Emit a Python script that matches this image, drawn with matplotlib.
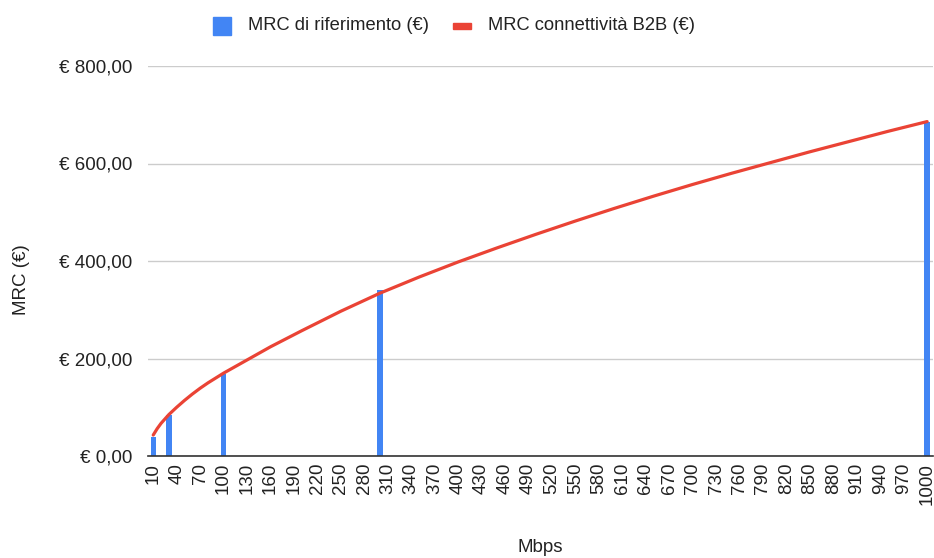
import matplotlib
matplotlib.use("Agg")
import matplotlib.pyplot as plt
from matplotlib.patches import Rectangle

plt.rcParams['font.family'] = ['Liberation Sans', 'DejaVu Sans']

# bars: reference MRC at the offered speeds
speeds = [10, 30, 100, 300, 1000]
mrc_ref = [40, 84, 168, 340, 686]

# red curve: MRC connettività B2B
curve_x = [10, 15, 20, 30, 40, 50, 60, 70, 80, 100, 130, 160, 200, 250, 300, 350,
           400, 450, 500, 550, 600, 650, 700, 750, 800, 850, 900, 950, 1000]
curve_y = [43, 56, 67, 85, 100, 114, 127, 139, 150, 170, 197, 224, 257, 297, 334, 367,
           398, 427, 455, 482, 508, 533, 557, 580, 602, 624, 645, 666, 686]

x_ticks = list(range(10, 1000, 30)) + [1000]
y_ticks = [0, 200, 400, 600, 800]
y_labels = ['€ 0,00', '€ 200,00', '€ 400,00', '€ 600,00', '€ 800,00']

BLUE = '#4285F4'
RED = '#EA4335'
W, H = 934, 558

fig = plt.figure(figsize=(W / 100, H / 100), dpi=100)
ax = fig.add_axes([148 / W, 1 - 456 / H, (933 - 148) / W, (456 - 66) / H])

ax.bar(speeds, mrc_ref, width=7, color=BLUE, zorder=2)
ax.plot(curve_x, curve_y, color=RED, linewidth=2.3, zorder=3,
        solid_capstyle='round', solid_joinstyle='round')

ax.set_xlim(3.3, 1007.5)
ax.set_ylim(0, 800)
ax.set_xticks(x_ticks)
ax.set_xticklabels([str(t) for t in x_ticks], rotation=90, fontsize=13.5, color='#222222')
ax.set_yticks(y_ticks)
ax.set_yticklabels(y_labels, fontsize=13.5, color='#222222')
ax.tick_params(axis='both', length=0)
ax.tick_params(axis='x', pad=5)
ax.tick_params(axis='y', pad=11)

ax.grid(axis='y', color='#cccccc', linewidth=1)
ax.set_axisbelow(True)
for side in ['top', 'right', 'left']:
    ax.spines[side].set_visible(False)
ax.spines['bottom'].set_color('#333333')
ax.spines['bottom'].set_linewidth(1.2)
ax.spines['bottom'].set_zorder(4)

fig.text(540 / W, 1 - 548 / H, 'Mbps', ha='center', va='center', fontsize=13.5, color='#222222')
fig.text(22 / W, 1 - 280 / H, 'MRC (€)', ha='center', va='center', rotation=90,
         fontsize=13.5, color='#222222')

# legend drawn by hand
fig.add_artist(Rectangle((213 / W, 1 - 35 / H), 18 / W, 18 / H, transform=fig.transFigure,
                         color=BLUE))
fig.text(248 / W, 1 - 26 / H, 'MRC di riferimento (€)', ha='left', va='center', fontsize=13.2,
         color='#222222')
fig.add_artist(Rectangle((453 / W, 1 - 29 / H), 18 / W, 6 / H, transform=fig.transFigure,
                         color=RED))
fig.text(488 / W, 1 - 26 / H, 'MRC connettività B2B (€)', ha='left', va='center', fontsize=13.2,
         color='#222222')

fig.savefig('out.png', dpi=100)
